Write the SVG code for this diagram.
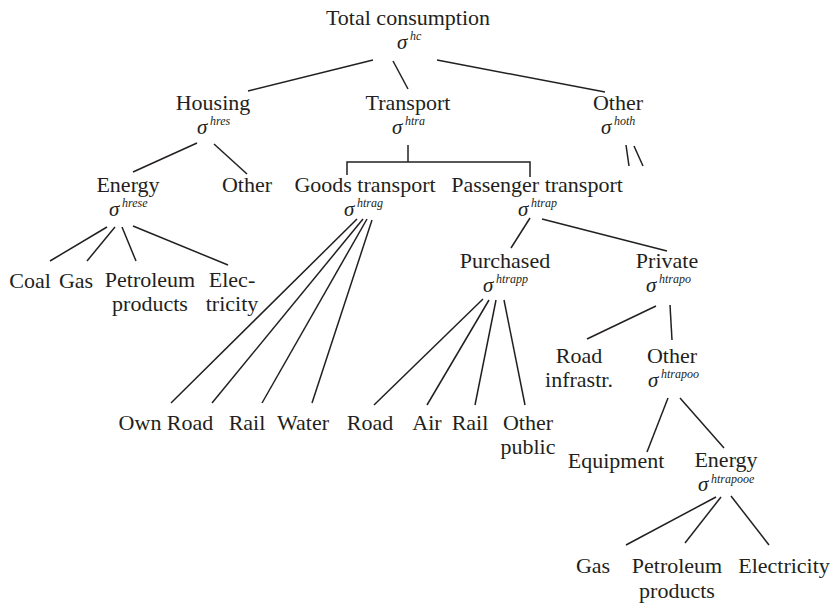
<svg xmlns="http://www.w3.org/2000/svg" width="835" height="605" viewBox="0 0 835 605">
<style>
.t{font-family:"Liberation Serif","Times New Roman",serif;font-size:22px;fill:#231f20;text-anchor:middle}
.s{font-family:"Liberation Serif","Times New Roman",serif;font-size:21px;font-style:italic;fill:#231f20}
.u{font-family:"Liberation Serif","Times New Roman",serif;font-size:12px;font-style:italic;fill:#231f20}
.c line,.c path{stroke:#231f20;stroke-width:1.5;fill:none}
</style>
<rect width="835" height="605" fill="#fff"/>
<g class="c" id="connectors">
<line x1="373" y1="60" x2="248" y2="91"/>
<line x1="393" y1="61" x2="408" y2="89"/>
<line x1="437" y1="60" x2="605" y2="92"/>
<line x1="197" y1="143" x2="133" y2="172"/>
<line x1="214" y1="144" x2="247" y2="174"/>
<line x1="408" y1="145" x2="408" y2="162"/>
<path d="M347 175V162H530V177"/>
<line x1="626" y1="145" x2="629" y2="166"/>
<line x1="634" y1="146" x2="643" y2="166"/>
<line x1="107" y1="227" x2="50" y2="261"/>
<line x1="115" y1="227" x2="87" y2="261"/>
<line x1="122" y1="227" x2="136" y2="261"/>
<line x1="133" y1="226" x2="228" y2="265"/>
<line x1="357" y1="219" x2="171" y2="403"/>
<line x1="363" y1="219" x2="212" y2="403"/>
<line x1="367" y1="219" x2="262" y2="403"/>
<line x1="372" y1="220" x2="312" y2="403"/>
<line x1="530" y1="218" x2="511" y2="248"/>
<line x1="542" y1="219" x2="667" y2="251"/>
<line x1="483" y1="299" x2="374" y2="405"/>
<line x1="489" y1="300" x2="427" y2="405"/>
<line x1="496" y1="300" x2="475" y2="405"/>
<line x1="504" y1="300" x2="525" y2="405"/>
<line x1="656" y1="306" x2="587" y2="339"/>
<line x1="670" y1="305" x2="672" y2="340"/>
<line x1="668" y1="398" x2="647" y2="452"/>
<line x1="680" y1="398" x2="724" y2="448"/>
<line x1="716" y1="497" x2="626" y2="545"/>
<line x1="721" y1="497" x2="685" y2="543"/>
<line x1="731" y1="496" x2="769" y2="545"/>
</g>
<g id="total"><text class="t" x="408" y="25">Total consumption</text><text class="s" x="397" y="49">σ</text><text class="u" x="410" y="40">hc</text></g>
<g id="housing"><text class="t" x="213" y="110">Housing</text><text class="s" x="197" y="134">σ</text><text class="u" x="210" y="125">hres</text></g>
<g id="transport"><text class="t" x="408" y="110">Transport</text><text class="s" x="392" y="134">σ</text><text class="u" x="405" y="125">htra</text></g>
<g id="other-top"><text class="t" x="618" y="110">Other</text><text class="s" x="601" y="134">σ</text><text class="u" x="614" y="125">hoth</text></g>
<g id="energy-h"><text class="t" x="128" y="192">Energy</text><text class="s" x="109" y="216">σ</text><text class="u" x="122" y="207">hrese</text></g>
<g id="other-h"><text class="t" x="247" y="192">Other</text></g>
<g id="goods"><text class="t" x="365" y="192">Goods transport</text><text class="s" x="344" y="216">σ</text><text class="u" x="357" y="207">htrag</text></g>
<g id="passenger"><text class="t" x="537" y="192">Passenger transport</text><text class="s" x="518" y="216">σ</text><text class="u" x="531" y="207">htrap</text></g>
<g id="coal"><text class="t" x="30" y="288">Coal</text></g>
<g id="gas-h"><text class="t" x="76" y="288">Gas</text></g>
<g id="petro-h"><text class="t" x="150" y="287">Petroleum<tspan x="150" dy="24">products</tspan></text></g>
<g id="elec-h"><text class="t" x="232" y="287">Elec-<tspan x="232" dy="24">tricity</tspan></text></g>
<g id="purchased"><text class="t" x="505" y="268">Purchased</text><text class="s" x="483" y="292">σ</text><text class="u" x="496" y="283">htrapp</text></g>
<g id="private"><text class="t" x="667" y="268">Private</text><text class="s" x="646" y="292">σ</text><text class="u" x="659" y="283">htrapo</text></g>
<g id="road-infra"><text class="t" x="579" y="363">Road<tspan x="579" dy="24">infrastr.</tspan></text></g>
<g id="other-p"><text class="t" x="672" y="363">Other</text><text class="s" x="648" y="387">σ</text><text class="u" x="661" y="378">htrapoo</text></g>
<g id="own"><text class="t" x="140" y="430">Own</text></g>
<g id="road-g"><text class="t" x="190" y="430">Road</text></g>
<g id="rail-g"><text class="t" x="247" y="430">Rail</text></g>
<g id="water"><text class="t" x="303" y="430">Water</text></g>
<g id="road-p"><text class="t" x="370" y="430">Road</text></g>
<g id="air"><text class="t" x="427" y="430">Air</text></g>
<g id="rail-p"><text class="t" x="470" y="430">Rail</text></g>
<g id="other-public"><text class="t" x="528" y="430">Other<tspan x="528" dy="24">public</tspan></text></g>
<g id="equipment"><text class="t" x="616" y="468">Equipment</text></g>
<g id="energy-p"><text class="t" x="726" y="467">Energy</text><text class="s" x="698" y="491">σ</text><text class="u" x="711" y="483">htrapooe</text></g>
<g id="gas-p"><text class="t" x="593" y="573">Gas</text></g>
<g id="petro-p"><text class="t" x="677" y="573">Petroleum<tspan x="677" dy="25">products</tspan></text></g>
<g id="elec-p"><text class="t" x="784" y="573">Electricity</text></g>
</svg>
